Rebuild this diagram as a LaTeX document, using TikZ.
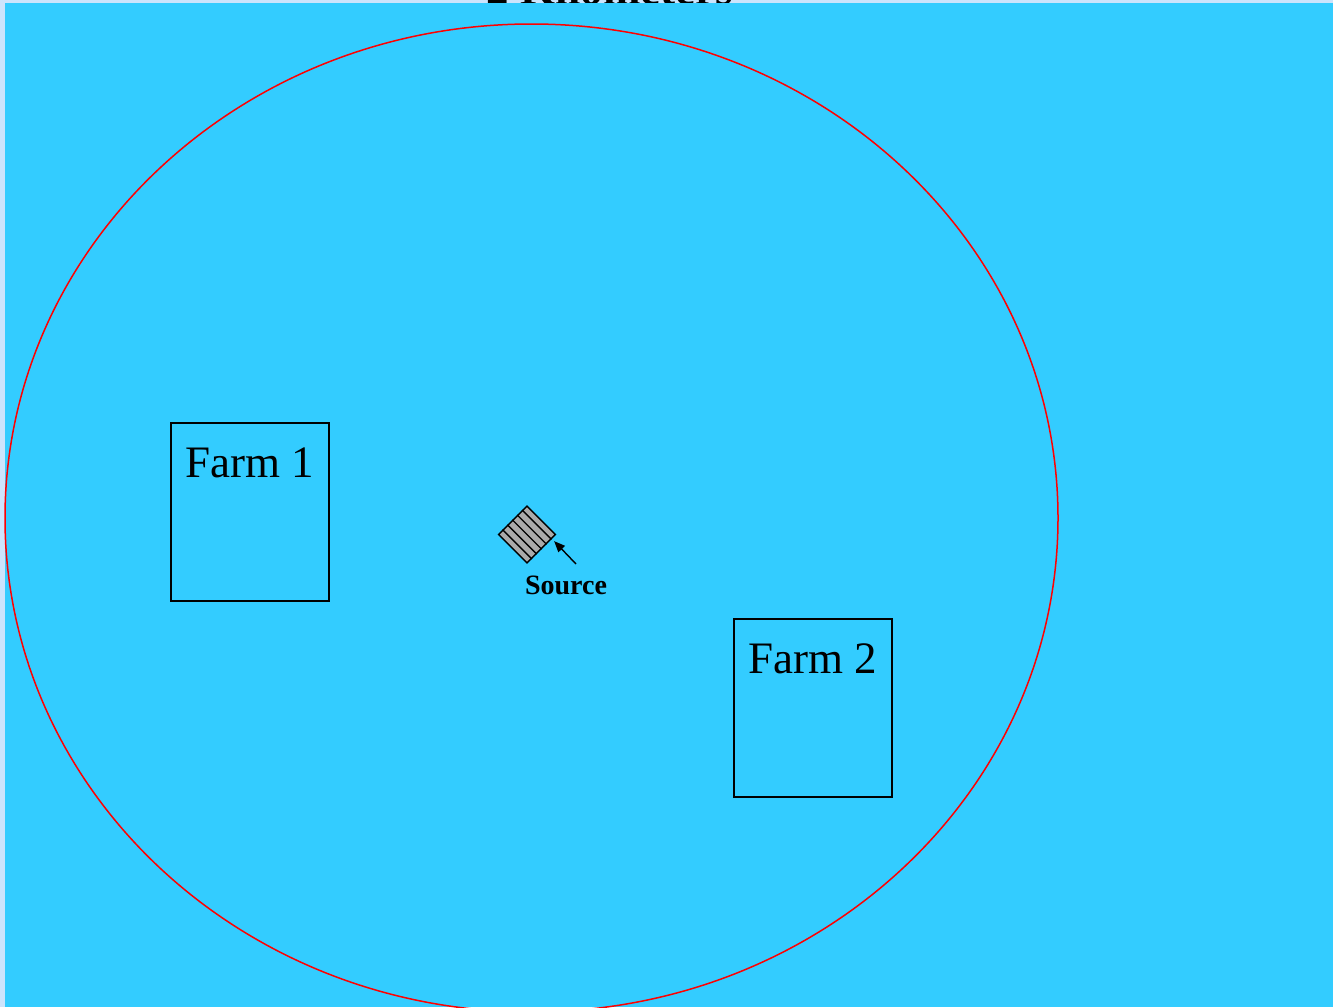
\documentclass[tikz,border=0pt]{standalone}
\usepackage{fontspec}
\setmainfont{Liberation Serif}
\usepackage{tikz}
\usetikzlibrary{arrows.meta,positioning,calc}
\definecolor{seaCyan}{HTML}{33CCFF}
\definecolor{paleBlue}{HTML}{CCE4FC}
\definecolor{ringRed}{HTML}{FF0000}
\definecolor{srcGray}{HTML}{AAAAAA}

\begin{document}
\begin{tikzpicture}[x=1pt, y=-1pt, >=Stealth,
  farm/.style={draw,line width=1.5pt,minimum width=158pt,minimum height=178pt,inner sep=0pt},
  farmlbl/.style={inner sep=0pt,font=\fontsize{45}{54}\selectfont},
  srcbox/.style={draw,line width=1.4pt,fill=srcGray,minimum size=40pt,inner sep=0pt,rotate=45},
  srclbl/.style={inner sep=0pt,font=\fontsize{28}{32}\selectfont\bfseries}]
\useasboundingbox (0,0) rectangle (1333,1007);
% --- background and cut-off title ---
\fill[paleBlue] (0,0) rectangle (1333,1007);
\node[anchor=base,inner sep=0pt,font=\fontsize{45}{54}\selectfont\bfseries] (title) at (610,4) {2 Kilometers};
\fill[seaCyan] (5,3) rectangle (1333,1007);
% --- farms ---
\node[farm] (farm1) at (250,512) {};
\node[farmlbl,below=25pt of farm1.north] (farm1lbl) {Farm 1};
\node[farm] (farm2) at (813,708) {};
\node[farmlbl,below=25pt of farm2.north] (farm2lbl) {Farm 2};
% --- source with hatching ---
\node[srcbox] (src) at (527,534.5) {};
\foreach \i in {1,...,5}
  \draw[line width=1.4pt] ($(src.north west)!\i/6!(src.north east)$) -- ($(src.south west)!\i/6!(src.south east)$);
\coordinate (srctail) at (576,564);
\coordinate (srctip) at ([xshift=12.5pt,yshift=8pt]src.south);
\draw[line width=1.4pt,-{Triangle[length=11pt,width=9pt]}] (srctail) -- (srctip);
\node[srclbl] (srclbl) at (566,585) {Source};
% --- 2 km ring ---
\draw[ringRed,line width=1.5pt] (531.5,518) ellipse [x radius=526.5, y radius=494];
\end{tikzpicture}
\end{document}
